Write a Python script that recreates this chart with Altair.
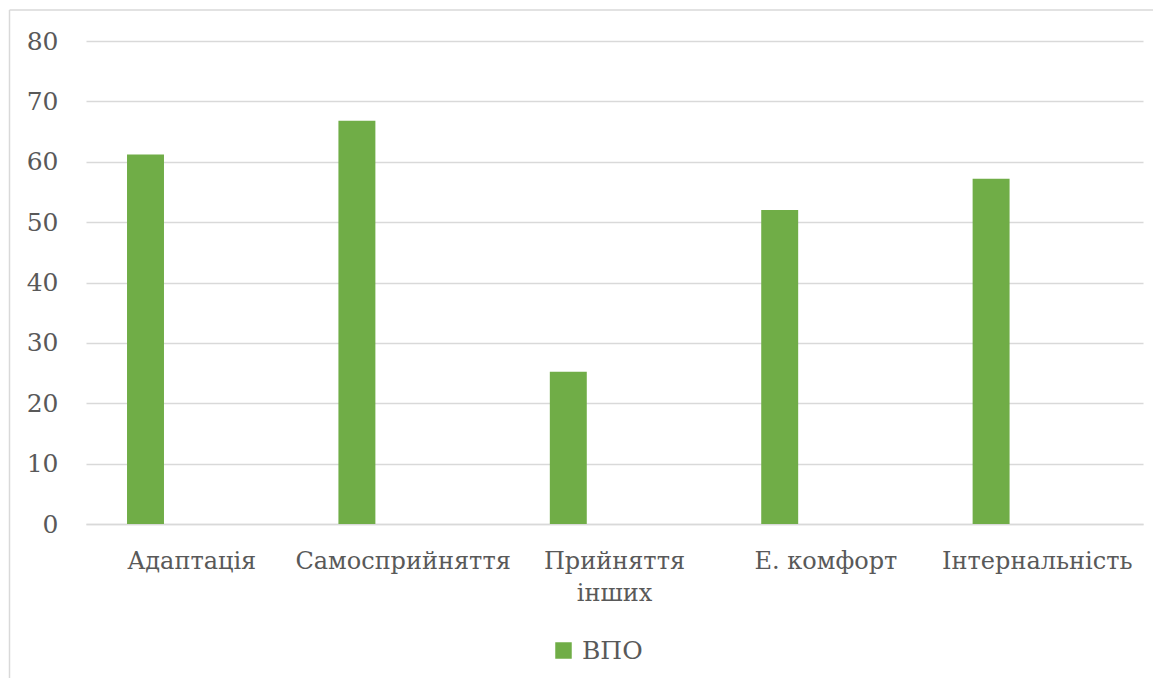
import altair as alt
import pandas as pd

categories = ["Адаптація", "Самосприйняття", "Прийняття інших", "Е. комфорт", "Інтернальність"]
values = [61.2, 66.8, 25.2, 52.0, 57.2]
series = ["ВПО"] * len(categories)
y_ticks = [0, 10, 20, 30, 40, 50, 60, 70, 80]

df = pd.DataFrame({"cat": categories, "value": values, "series": series})

FONT = "DejaVu Serif"
TXT = "#595959"
GRID = "#d9d9d9"
FS = 24

bars = alt.Chart(df).mark_bar().encode(
    x=alt.X(
        "cat:N",
        sort=categories,
        scale=alt.Scale(paddingInner=0, paddingOuter=0),
        axis=alt.Axis(
            title=None, labelAngle=0, ticks=False, grid=False,
            domainColor=GRID, domainWidth=1.5,
            labelFont=FONT, labelFontSize=FS, labelColor=TXT,
            labelPadding=25, labelLineHeight=32, labelBaseline="top", labelLimit=0,
            labelExpr="datum.label == 'Прийняття інших' ? ['Прийняття', 'інших'] : datum.label",
        ),
    ),
    xOffset=alt.XOffset(
        "series:N",
        scale=alt.Scale(domain=["ВПО", "_"], paddingInner=0.6, paddingOuter=0.444),
    ),
    y=alt.Y(
        "value:Q",
        scale=alt.Scale(domain=[0, 80], nice=False),
        axis=alt.Axis(
            title=None, values=y_ticks, ticks=False, domain=False,
            gridColor=GRID, gridWidth=1.3,
            labelFont=FONT, labelFontSize=25, labelColor=TXT, labelPadding=28,
        ),
    ),
    color=alt.Color(
        "series:N",
        scale=alt.Scale(domain=["ВПО"], range=["#70ad47"]),
        legend=alt.Legend(
            title=None, orient="none", legendX=465, legendY=597,
            symbolType="square", symbolSize=272, symbolStrokeWidth=0,
            labelFont=FONT, labelFontSize=25, labelColor=TXT, labelOffset=6,
        ),
    ),
)

one = pd.DataFrame({"a": [0]})
border_v = alt.Chart(one).mark_rule(color=GRID, strokeWidth=1.5).encode(
    x=alt.value(-76.5), y=alt.value(-31), y2=alt.value(660)
)
border_h = alt.Chart(one).mark_rule(color=GRID, strokeWidth=1.5).encode(
    x=alt.value(-76.5), x2=alt.value(1100), y=alt.value(-31)
)

chart = alt.layer(border_v, border_h, bars).properties(
    width=1057,
    height=483,
    autosize=alt.AutoSizeParams(type="none"),
    padding={"left": 78, "top": 33, "right": 10, "bottom": 154},
).configure_view(stroke=None)

chart.save("out.html", embed_options={"renderer": "svg", "actions": False})
